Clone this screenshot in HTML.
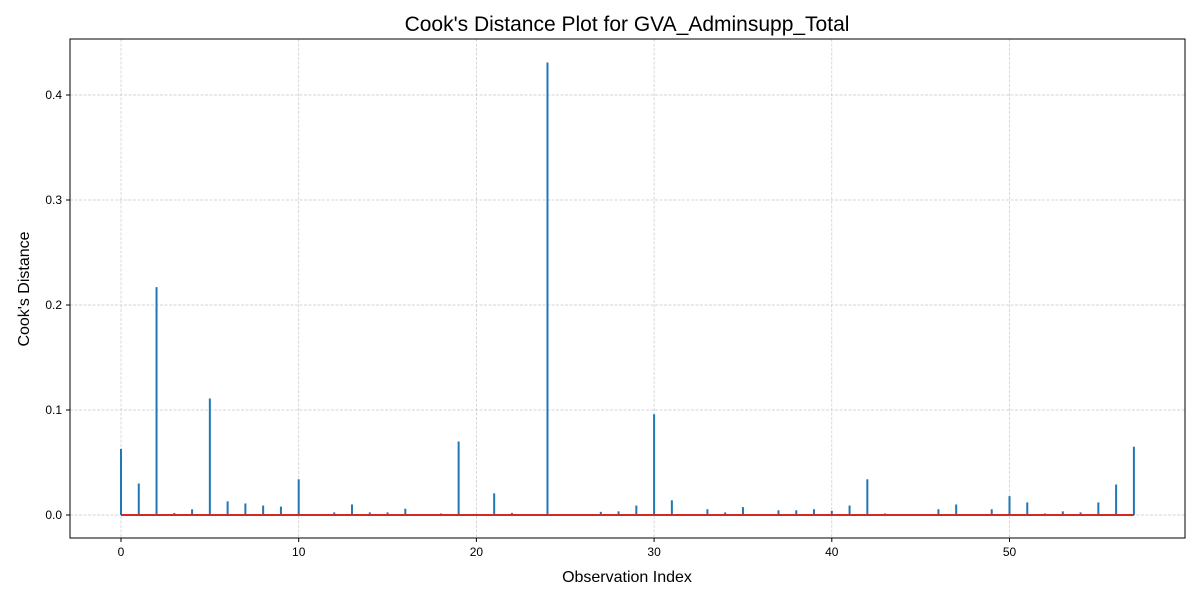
<!DOCTYPE html>
<html><head><meta charset="utf-8"><style>
body{margin:0;background:#fff;}
svg{display:block;font-family:"Liberation Sans","DejaVu Sans",sans-serif;}
</style></head><body>
<svg id="chart" width="1200" height="600">
<rect width="1200" height="600" fill="#fff"/>
<text x="627" y="31" font-size="21" text-anchor="middle">Cook's Distance Plot for GVA_Adminsupp_Total</text>
<g id="grid"></g>
<g id="stems"></g>
<g id="axes"></g>
<text x="627" y="582" font-size="16" text-anchor="middle">Observation Index</text>
<text transform="translate(29,289) rotate(-90)" font-size="16" text-anchor="middle">Cook's Distance</text>
</svg>
<script>
const cooksValues = [0.063,0.030,0.217,0.002,0.0054,0.111,0.013,0.011,0.009,0.008,0.034,0,0.0025,0.010,0.0025,0.0025,0.006,0,0.0015,0.070,0.001,0.0206,0.002,0,0.431,0,0,0.003,0.0035,0.009,0.096,0.014,0,0.0055,0.0025,0.0075,0,0.0045,0.0045,0.0055,0.004,0.009,0.034,0.0015,0,0,0.0055,0.010,0,0.0055,0.018,0.012,0.0015,0.0035,0.0025,0.012,0.029,0.065];
const xTicks = [0,10,20,30,40,50];
const yTicks = [0,0.1,0.2,0.3,0.4];
const yTickLabels = ["0.0","0.1","0.2","0.3","0.4"];

const L=70,R=1185,T=39,B=538;
const xs=i=>121+i*17.77;
const ys=v=>515-v*1050;
const NS="http://www.w3.org/2000/svg";
function mk(tag,attrs,parent){const e=document.createElementNS(NS,tag);for(const k in attrs)e.setAttribute(k,attrs[k]);parent.appendChild(e);return e;}
const grid=document.getElementById('grid'),stems=document.getElementById('stems'),axes=document.getElementById('axes');
xTicks.forEach(t=>{
  const g=mk('line',{x1:xs(t),x2:xs(t),y1:T,y2:B,stroke:'#c8c8c8','stroke-width':0.7,'stroke-dasharray':'3,1.5'},grid);
  
  
  const tk=mk('line',{x1:xs(t),x2:xs(t),y1:B,y2:B+4,stroke:'#000','stroke-width':1},axes);
  
  
  const lb=mk('text',{x:xs(t),y:B+18,'font-size':12,'text-anchor':'middle'},axes);
  lb.textContent=t;
  
  
});
yTicks.forEach((t,i)=>{
  const g=mk('line',{x1:L,x2:R,y1:ys(t),y2:ys(t),stroke:'#c8c8c8','stroke-width':0.7,'stroke-dasharray':'3,1.5'},grid);
  
  
  const tk=mk('line',{x1:L-4,x2:L,y1:ys(t),y2:ys(t),stroke:'#000','stroke-width':1},axes);
  
  
  const lb=mk('text',{x:L-8,y:ys(t)+4,'font-size':12,'text-anchor':'end'},axes);
  lb.textContent=yTickLabels[i];
  
  
});
cooksValues.forEach((v,i)=>{
  if(v<=0)return;
  const s=mk('line',{x1:xs(i),x2:xs(i),y1:ys(0),y2:ys(v),stroke:'#1f77b4','stroke-width':2},stems);
  
  
});
const base=mk('line',{x1:xs(0),x2:xs(cooksValues.length-1),y1:ys(0),y2:ys(0),stroke:'#d62728','stroke-width':2},stems);


const frame=mk('rect',{x:L,y:T,width:R-L,height:B-T,fill:'none',stroke:'#000','stroke-width':1},axes);


</script>
</body></html>
